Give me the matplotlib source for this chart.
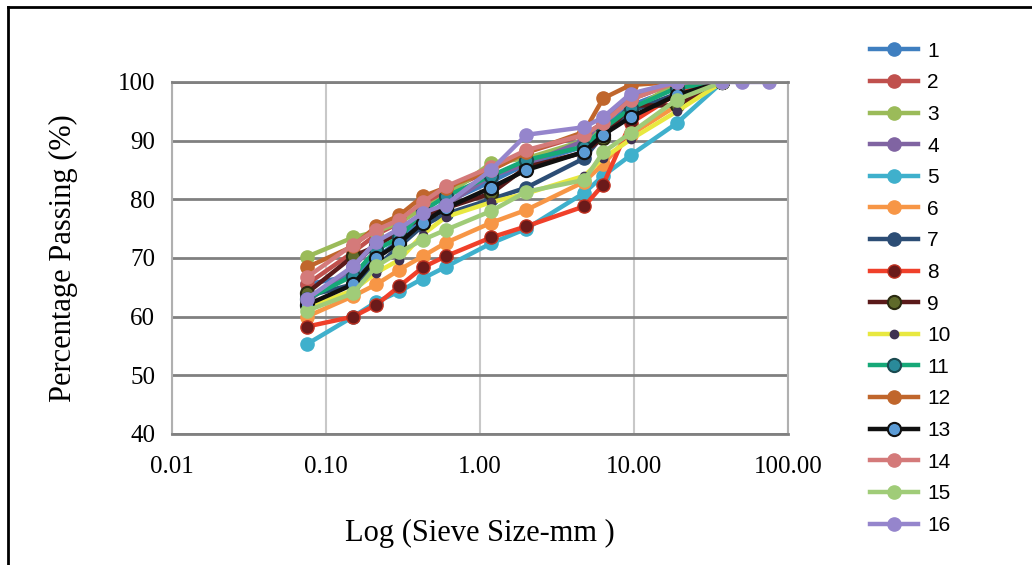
"""Sieve analysis: percentage passing vs log sieve size for 16 samples."""
import matplotlib
matplotlib.use("Agg")
import matplotlib.pyplot as plt
from matplotlib.lines import Line2D

sieve_mm = [0.075, 0.15, 0.212, 0.3, 0.425, 0.6, 1.18, 2.0, 4.75, 6.3, 9.5, 19, 37.5]
sieve_mm_16 = sieve_mm + [50, 75]

labels = [str(i) for i in range(1, 17)]
passing = {
    "1":  [65.5, 67.0, 70.0, 73.0, 77.0, 79.5, 83.0, 86.0, 89.0, 92.0, 96.0, 99.0, 100],
    "2":  [65.5, 71.0, 74.0, 76.0, 79.0, 81.5, 85.0, 88.0, 91.0, 93.0, 97.0, 100, 100],
    "3":  [70.2, 73.5, 74.5, 76.0, 78.5, 80.5, 86.2, 87.0, 90.0, 92.0, 95.0, 100, 100],
    "4":  [62.5, 68.5, 72.5, 75.0, 77.5, 79.0, 84.0, 86.0, 90.0, 93.5, 97.5, 100, 100],
    "5":  [55.3, 60.0, 62.5, 64.3, 66.5, 68.5, 72.5, 75.0, 81.1, 84.0, 87.5, 93.0, 100],
    "6":  [60.0, 63.5, 65.5, 68.0, 70.3, 72.6, 76.0, 78.2, 83.0, 86.0, 91.0, 96.0, 100],
    "7":  [63.5, 65.5, 68.5, 72.0, 75.5, 77.5, 80.0, 82.0, 87.0, 91.0, 95.0, 98.0, 100],
    "8":  [58.3, 60.0, 62.0, 65.2, 68.4, 70.3, 73.5, 75.4, 78.8, 82.5, 93.0, 98.0, 100],
    "9":  [64.0, 70.3, 72.0, 74.5, 77.0, 78.5, 81.0, 85.5, 88.0, 90.5, 96.0, 96.0, 100],
    "10": [61.5, 64.5, 67.5, 69.7, 74.0, 77.0, 79.5, 81.0, 84.0, 87.0, 90.2, 95.0, 100],
    "11": [63.0, 67.0, 71.4, 73.5, 78.0, 80.5, 84.0, 86.7, 89.0, 92.0, 95.5, 99.0, 100],
    "12": [68.4, 72.0, 75.4, 77.3, 80.5, 82.0, 85.0, 88.0, 91.5, 97.2, 99.5, 100, 100],
    "13": [62.0, 65.5, 70.0, 72.6, 76.0, 78.5, 82.0, 85.0, 88.1, 91.0, 94.0, 97.8, 100],
    "14": [66.7, 72.3, 74.8, 76.5, 79.5, 82.2, 85.5, 88.4, 91.0, 93.0, 97.0, 100, 100],
    "15": [61.0, 64.0, 68.6, 71.0, 73.1, 74.8, 78.0, 81.3, 83.3, 88.0, 91.3, 97.0, 100],
    "16": [63.0, 68.6, 72.8, 75.0, 77.7, 79.1, 85.0, 91.0, 92.3, 94.0, 98.0, 100, 100, 100, 100],
}

# line colour, marker face colour, marker edge colour
styles = {
    "1":  ("#3f7fc0", "#3f7fc0", "#3f7fc0"),
    "2":  ("#c0504d", "#c0504d", "#c0504d"),
    "3":  ("#9bbb59", "#9bbb59", "#9bbb59"),
    "4":  ("#8064a2", "#8064a2", "#8064a2"),
    "5":  ("#3fb0cc", "#3fb0cc", "#3fb0cc"),
    "6":  ("#f79646", "#f79646", "#f79646"),
    "7":  ("#2c4d75", "#2c4d75", "#2c4d75"),
    "8":  ("#f0402a", "#6b1a1a", "#c03020"),
    "9":  ("#5a1a1a", "#5f6a2a", "#2a2a10"),
    "10": ("#e8e840", "#3f3151", "#3f3151"),
    "11": ("#16a878", "#2a8a9a", "#1a4a50"),
    "12": ("#c0662c", "#c0662c", "#c0662c"),
    "13": ("#101010", "#5b9bd5", "#101010"),
    "14": ("#d47a7a", "#d47a7a", "#d47a7a"),
    "15": ("#a0cc78", "#a0cc78", "#a0cc78"),
    "16": ("#9585cc", "#9585cc", "#9585cc"),
}

fig = plt.figure(figsize=(10.32, 5.65), dpi=100)
ax = fig.add_axes([172 / 1032, 131 / 565, 616 / 1032, 352 / 565])

for lab in labels:
    lc, mfc, mec = styles[lab]
    x = sieve_mm_16 if lab == "16" else sieve_mm
    ax.plot(x, passing[lab], color=lc, lw=3.2, marker="o",
            ms=6 if lab == "10" else 9.5, mfc=mfc, mec=mec,
            mew=1.5 if lab in ("9", "11", "13") else 1, label=lab)

ax.set_xscale("log")
ax.set_xlim(0.01, 100)
ax.set_ylim(40, 100)
ax.set_xticks([0.01, 0.1, 1, 10, 100])
ax.set_xticklabels(["0.01", "0.10", "1.00", "10.00", "100.00"])
ax.set_yticks(range(40, 101, 10))
ax.minorticks_off()
ax.tick_params(axis="x", length=0, pad=16, labelsize=18)
ax.tick_params(axis="y", length=0, pad=12, labelsize=18)
for t in ax.get_xticklabels() + ax.get_yticklabels():
    t.set_family("Liberation Serif")

ax.grid(axis="y", color="#808080", lw=2)
ax.grid(axis="x", color="#c8c8c8", lw=1.5)
ax.set_axisbelow(True)
for side in ("left", "right"):
    ax.spines[side].set_color("#b0b0b0")
    ax.spines[side].set_linewidth(1.5)
for side in ("top", "bottom"):
    ax.spines[side].set_color("#808080")
    ax.spines[side].set_linewidth(2)

ax.set_xlabel("Log (Sieve Size-mm )", family="Liberation Serif", fontsize=22, labelpad=29)
ax.set_ylabel("Percentage Passing (%)", family="Liberation Serif", fontsize=22, labelpad=29)

leg = fig.legend(loc="upper left", bbox_to_anchor=(851 / 1032, 1 - 23 / 565),
                 frameon=False, prop={"family": "Liberation Sans", "size": 15},
                 handlelength=2.3, handletextpad=0.45, labelspacing=0.605)

# outer black frame (top and left visible)
fig.add_artist(Line2D([8 / 1032, 1], [1 - 7 / 565, 1 - 7 / 565], color="black", lw=2))
fig.add_artist(Line2D([8 / 1032, 8 / 1032], [0, 1 - 7 / 565], color="black", lw=2))

fig.savefig("out.png", dpi=100)
